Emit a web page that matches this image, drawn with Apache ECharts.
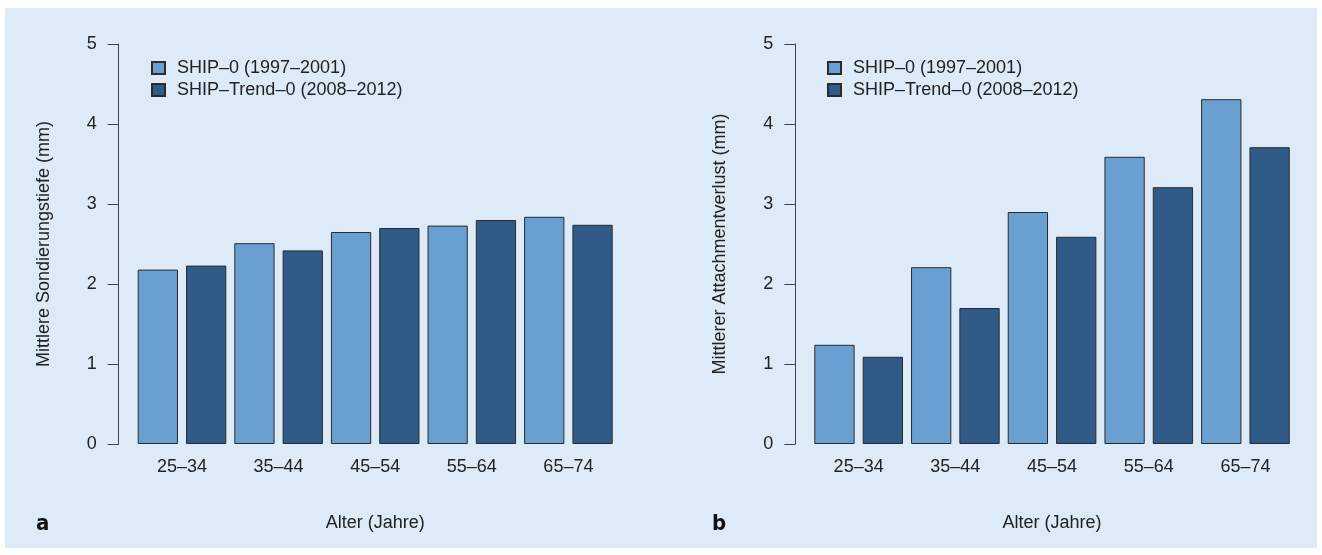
<!DOCTYPE html>
<html>
<head>
<meta charset="utf-8">
<script src="https://cdn.jsdelivr.net/npm/echarts@6/dist/echarts.min.js"></script>
<style>
html,body{margin:0;padding:0;background:#ffffff;}
#chart{width:1322px;height:555px;}
</style>
</head>
<body>
<div id="chart"></div>
<script>
// ---- data ----
const categories = ['25–34', '35–44', '45–54', '55–64', '65–74'];
const seriesNames = ['SHIP–0 (1997–2001)', 'SHIP–Trend–0 (2008–2012)'];
// Panel a: Mittlere Sondierungstiefe (mm)
const sondShip0 = [2.18, 2.51, 2.65, 2.73, 2.84];
const sondTrend0 = [2.23, 2.42, 2.70, 2.80, 2.74];
// Panel b: Mittlerer Attachmentverlust (mm)
const attShip0 = [1.24, 2.21, 2.90, 3.59, 4.31];
const attTrend0 = [1.09, 1.70, 2.59, 3.21, 3.71];
const yTicks = [0, 1, 2, 3, 4, 5];

const FONT = '"Liberation Sans", Arial, Helvetica, sans-serif';
const TXT = '#222222';
const LIGHT = '#6a9fd2';
const DARK = '#305b88';
const BORDER = '#2b2b2b';

const chart = echarts.init(document.getElementById('chart'), null, {renderer: 'canvas'});

function makeY(gridIndex, name) {
  return {
    type: 'value', gridIndex: gridIndex,
    min: yTicks[0], max: yTicks[yTicks.length - 1], interval: 1,
    offset: 15,
    name: name, nameLocation: 'middle', nameGap: 66,
    nameTextStyle: {fontFamily: FONT, fontSize: 18, color: TXT},
    axisLine: {show: true, lineStyle: {color: '#444', width: 1}},
    axisTick: {show: true, length: 11, lineStyle: {color: '#444', width: 1}},
    axisLabel: {fontFamily: FONT, fontSize: 18, color: TXT, margin: 22},
    splitLine: {show: false}
  };
}
function makeX(gridIndex) {
  return {
    type: 'category', gridIndex: gridIndex, data: categories,
    name: 'Alter (Jahre)', nameLocation: 'middle', nameGap: 70,
    nameTextStyle: {fontFamily: FONT, fontSize: 18, color: TXT},
    axisLine: {show: false}, axisTick: {show: false},
    axisLabel: {fontFamily: FONT, fontSize: 18, color: TXT, margin: 14}
  };
}
function makeBar(name, data, idx, color) {
  return {
    type: 'bar', name: name, data: data,
    xAxisIndex: idx, yAxisIndex: idx,
    barGap: '20%', barCategoryGap: '8.33%',
    itemStyle: {color: color, borderColor: BORDER, borderWidth: 1},
    emphasis: {disabled: true},
    animation: false
  };
}
function makeLegend(left) {
  return {
    orient: 'vertical', left: left, top: 54,
    data: seriesNames,
    icon: 'rect', itemWidth: 13, itemHeight: 12, itemGap: 4,
    textStyle: {fontFamily: FONT, fontSize: 18, color: TXT, lineHeight: 18, padding: [0, 0, 0, 7]},
    selectedMode: false
  };
}

const option = {
  animation: false,
  backgroundColor: '#ffffff',
  graphic: [
    {type: 'rect', left: 5, top: 8, shape: {width: 1312, height: 540}, style: {fill: '#ddeaf7'}, z: -10, silent: true},
    {type: 'text', left: 36, top: 513, style: {text: 'a', font: 'bold 22px "Liberation Sans Narrow", "DejaVu Sans Condensed", sans-serif', fill: '#111'}},
    {type: 'text', left: 712, top: 513, style: {text: 'b', font: 'bold 22px "Liberation Sans Narrow", "DejaVu Sans Condensed", sans-serif', fill: '#111'}}
  ],
  legend: [makeLegend(146), makeLegend(822)],
  grid: [
    {left: 133.7, top: 44, width: 483, height: 400},
    {left: 810.3, top: 44, width: 483.5, height: 400}
  ],
  xAxis: [makeX(0), makeX(1)],
  yAxis: [makeY(0, 'Mittlere Sondierungstiefe (mm)'), makeY(1, 'Mittlerer Attachmentverlust (mm)')],
  series: [
    makeBar(seriesNames[0], sondShip0, 0, LIGHT),
    makeBar(seriesNames[1], sondTrend0, 0, DARK),
    makeBar(seriesNames[0], attShip0, 1, LIGHT),
    makeBar(seriesNames[1], attTrend0, 1, DARK)
  ]
};
chart.setOption(option);
</script>
</body>
</html>
